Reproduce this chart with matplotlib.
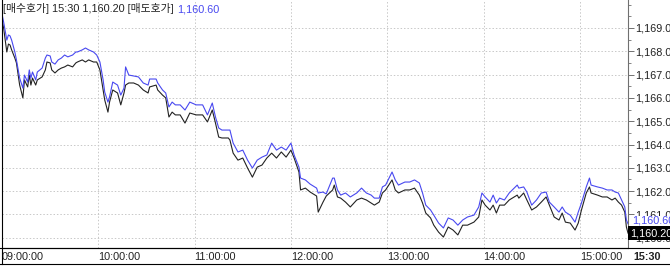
import matplotlib.pyplot as plt
import matplotlib.transforms as mtransforms
from matplotlib.lines import Line2D
from matplotlib.ticker import MultipleLocator

plt.rcParams['font.family'] = ['Liberation Sans', 'Noto Sans CJK KR']

# minutes after 09:00
minutes = [0, 1, 3, 4, 5, 6, 8, 9, 11, 13,
           14, 16, 17, 18, 19, 21, 22, 25, 27, 28,
           30, 31, 33, 35, 37, 39, 41, 44, 46, 47,
           50, 52, 54, 57, 59, 61, 63, 64, 66, 67,
           69, 72, 74, 76, 77, 79, 82, 85, 88, 91,
           92, 96, 97, 100, 102, 104, 106, 108, 111, 114,
           117, 121, 125, 128, 131, 133, 135, 137, 141, 142,
           144, 147, 150, 153, 156, 159, 162, 165, 168, 171,
           174, 177, 180, 182, 185, 186, 189, 192, 196, 197,
           200, 202, 206, 207, 209, 211, 214, 217, 221, 224,
           227, 230, 232, 235, 237, 239, 243, 245, 247, 251,
           254, 257, 260, 262, 264, 267, 269, 272, 275, 278,
           281, 284, 287, 290, 294, 297, 299, 301, 304, 306,
           308, 310, 313, 316, 321, 322, 325, 327, 330, 333,
           336, 339, 341, 344, 347, 349, 351, 354, 357, 359,
           361, 364, 366, 367, 371, 374, 377, 380, 382, 384,
           386, 388, 389, 390]

# [매수호가] bid
bid = [1169.34, 1169.00, 1167.97, 1168.31, 1168.27, 1168.06, 1167.71, 1167.50, 1166.55, 1166.00,
       1166.77, 1166.47, 1166.98, 1166.55, 1166.85, 1166.55, 1166.77, 1166.90, 1167.20, 1167.54,
       1167.50, 1167.20, 1167.07, 1167.20, 1167.28, 1167.33, 1167.41, 1167.33, 1167.50, 1167.54,
       1167.63, 1167.54, 1167.63, 1167.54, 1167.54, 1167.20, 1166.34, 1165.91, 1165.39, 1165.82,
       1166.34, 1166.21, 1165.70, 1166.21, 1166.55, 1166.64, 1166.64, 1166.55, 1166.34, 1166.21,
       1166.47, 1166.55, 1166.34, 1166.12, 1166.00, 1165.18, 1165.39, 1165.27, 1165.27, 1164.92,
       1165.35, 1165.27, 1165.27, 1164.97, 1165.48, 1164.92, 1164.32, 1164.28, 1164.28, 1164.19,
       1163.63, 1163.33, 1163.42, 1162.99, 1162.60, 1163.03, 1163.12, 1163.42, 1163.63, 1163.42,
       1163.68, 1163.46, 1163.76, 1163.42, 1162.82, 1162.05, 1162.13, 1161.96, 1161.79, 1161.10,
       1161.53, 1161.79, 1162.05, 1162.26, 1161.75, 1161.70, 1161.53, 1161.32, 1161.62, 1161.70,
       1161.62, 1161.49, 1161.40, 1161.53, 1161.92, 1162.05, 1162.48, 1162.05, 1161.92, 1162.05,
       1162.05, 1162.13, 1161.83, 1161.49, 1161.06, 1160.85, 1160.54, 1160.24, 1160.03, 1160.46,
       1160.33, 1160.12, 1160.54, 1160.54, 1160.67, 1160.89, 1161.62, 1161.40, 1161.19, 1161.40,
       1161.06, 1161.40, 1161.40, 1161.62, 1161.83, 1161.70, 1161.92, 1161.62, 1161.19, 1161.32,
       1161.53, 1161.75, 1161.40, 1160.89, 1160.76, 1161.06, 1160.67, 1160.63, 1160.33, 1160.63,
       1161.19, 1161.92, 1162.18, 1161.92, 1161.83, 1161.75, 1161.75, 1161.62, 1161.70, 1161.53,
       1161.40, 1161.10, 1160.46, 1160.20]

# [매도호가] ask
ask = [1169.60, 1169.26, 1168.48, 1168.70, 1168.66, 1168.48, 1167.97, 1167.63, 1166.85, 1166.42,
       1166.98, 1166.68, 1167.20, 1166.85, 1167.11, 1166.77, 1167.11, 1167.28, 1167.71, 1167.84,
       1167.80, 1167.54, 1167.45, 1167.63, 1167.71, 1167.84, 1167.76, 1167.84, 1167.97, 1167.97,
       1168.06, 1168.14, 1168.06, 1167.97, 1167.84, 1167.54, 1166.77, 1166.25, 1165.82, 1166.04,
       1166.68, 1166.55, 1166.12, 1166.42, 1167.33, 1166.98, 1166.94, 1166.90, 1166.64, 1166.55,
       1166.81, 1166.81, 1166.64, 1166.34, 1166.21, 1165.61, 1165.82, 1165.70, 1165.70, 1165.48,
       1165.82, 1165.70, 1165.70, 1165.27, 1165.78, 1165.18, 1164.71, 1164.62, 1164.62, 1164.62,
       1164.06, 1163.68, 1163.76, 1163.33, 1162.99, 1163.33, 1163.46, 1163.55, 1164.06, 1163.76,
       1163.89, 1163.76, 1164.06, 1163.55, 1163.03, 1162.56, 1162.48, 1162.30, 1162.13, 1161.92,
       1161.96, 1161.88, 1162.56, 1162.56, 1162.05, 1161.83, 1161.92, 1161.75, 1161.92, 1162.13,
       1161.92, 1161.83, 1161.70, 1161.70, 1162.18, 1162.26, 1162.82, 1162.48, 1162.26, 1162.39,
       1162.39, 1162.48, 1162.35, 1161.92, 1161.40, 1161.19, 1160.97, 1160.63, 1160.42, 1160.85,
       1160.76, 1160.54, 1160.76, 1160.89, 1160.97, 1161.32, 1161.92, 1161.75, 1161.53, 1161.83,
       1161.49, 1161.70, 1161.62, 1161.92, 1162.26, 1162.13, 1162.18, 1161.96, 1161.40, 1161.62,
       1161.92, 1161.96, 1161.53, 1161.32, 1161.10, 1161.32, 1161.10, 1160.97, 1160.67, 1161.10,
       1161.49, 1162.18, 1162.56, 1162.26, 1162.18, 1162.13, 1162.05, 1162.05, 1161.96, 1161.92,
       1161.62, 1161.32, 1160.76, 1160.60]

hour_pos = [0, 60, 120, 180, 240, 300, 360]
hour_labels = ["09:00:00", "10:00:00", "11:00:00", "12:00:00", "13:00:00", "14:00:00", "15:00:00"]
price_ticks = [1160, 1161, 1162, 1163, 1164, 1165, 1166, 1167, 1168, 1169]
last_time = "15:30"
last_bid = 1160.20
last_ask = 1160.60

blue = "#4848f0"
fs = 7.8

fig = plt.figure(figsize=(6.7, 2.66), dpi=100)
ax = fig.add_axes([2 / 670, 18 / 266, 626 / 670, 248 / 266])

ax.plot(minutes, bid, color="#222222", lw=0.8)
ax.plot(minutes, ask, color=blue, lw=0.8)

ax.set_xlim(0, 390)
ax.set_ylim(1159.56, 1170.2)

# grid
for h in hour_pos[1:]:
    ax.axvline(h, color="#c8c8c8", lw=0.7, ls=(0, (1.5, 2)), zorder=0)
for p in price_ticks:
    ax.axhline(p, color="#c8c8c8", lw=0.7, ls=(0, (1.5, 2)), zorder=0)

# axes styling
ax.spines["top"].set_visible(False)
ax.spines["left"].set_visible(False)
ax.spines["right"].set_color("#707070")
ax.spines["bottom"].set_color("black")

ax.yaxis.tick_right()
ax.set_yticks(price_ticks)
ax.set_yticklabels(["{:,.1f}".format(p) for p in price_ticks])
ax.yaxis.set_minor_locator(MultipleLocator(0.5))
ax.tick_params(axis="y", which="major", direction="out", length=4, width=0.7,
               color="#707070", pad=1, labelsize=fs, labelcolor="#222222")
ax.tick_params(axis="y", which="minor", direction="out", length=2, width=0.6, color="#707070")

ax.set_xticks(hour_pos)
ax.set_xticklabels(hour_labels)
ax.tick_params(axis="x", length=0, pad=3, labelsize=fs, labelcolor="#222222")
for lab in ax.get_xticklabels():
    lab.set_ha("left")

# last price labels on the right axis
tr = mtransforms.blended_transform_factory(ax.transAxes, ax.transData)
ax.text(1.006, last_ask + 0.12, "{:,.2f}".format(last_ask), transform=tr, color=blue,
        fontsize=fs, va="center", ha="left", clip_on=False,
        bbox=dict(facecolor="white", edgecolor="none", pad=0.3))
ax.text(1.003, last_bid, "{:,.2f}".format(last_bid), transform=tr, color="white",
        fontsize=fs, va="center", ha="left", clip_on=False,
        bbox=dict(facecolor="black", edgecolor="none", pad=1.2))

# header text
t1 = fig.text(3 / 670, 1 - 9 / 266, "[매수호가] 15:30 {:,.2f} [매도호가]".format(last_bid),
              fontsize=fs, va="center", ha="left", color="#222222")
ax.annotate("{:,.2f}".format(last_ask), xy=(1, 0.5), xycoords=t1, xytext=(2.5, 0),
            textcoords="offset points", fontsize=fs, va="center", ha="left", color=blue)

# bold time label in the corner
fig.text(633 / 670, 9 / 266, last_time, fontsize=fs, fontweight="bold", va="center",
         ha="left", color="#222222")

# frame lines
fig.add_artist(Line2D([0, 1], [18 / 266, 18 / 266], color="black", lw=0.8))
fig.add_artist(Line2D([0, 1], [2 / 266, 2 / 266], color="black", lw=0.8))
fig.add_artist(Line2D([1.5 / 670, 1.5 / 670], [2 / 266, 1], color="black", lw=0.8))

fig.savefig("out.png", dpi=100)
